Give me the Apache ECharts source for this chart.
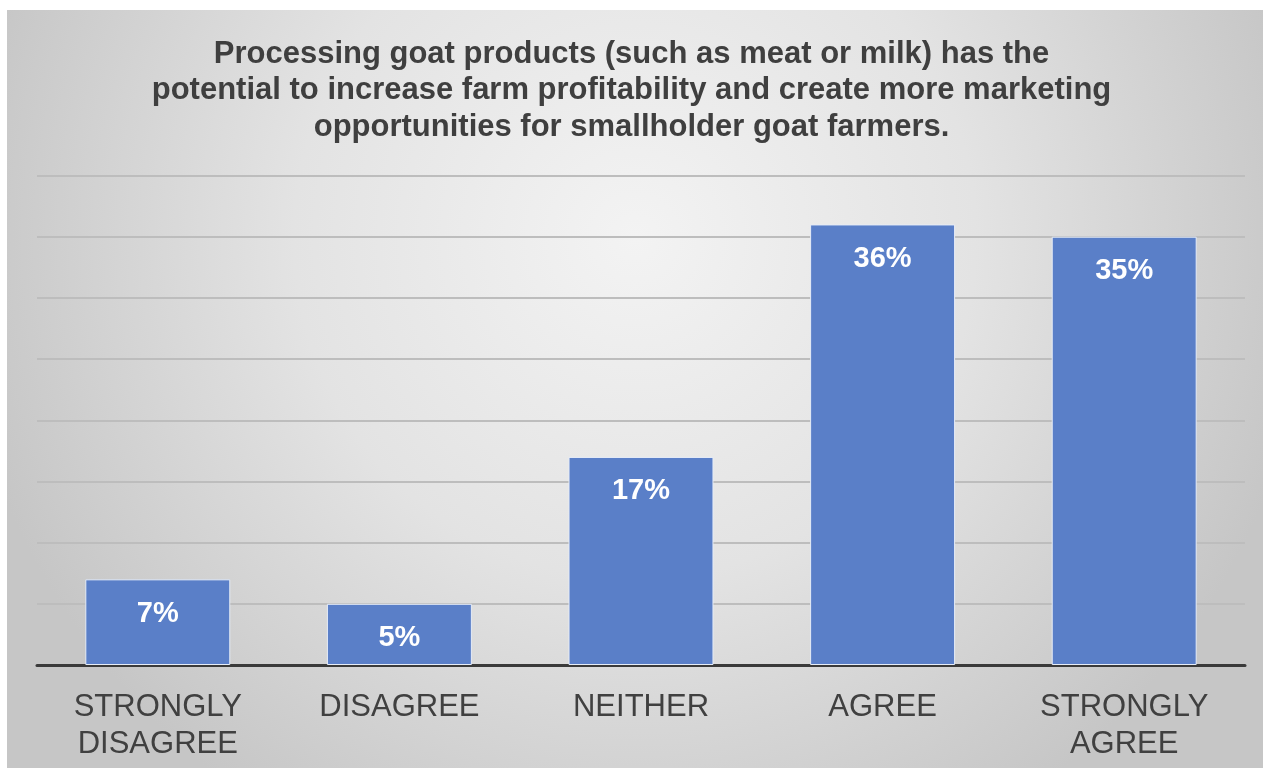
<!DOCTYPE html>
<html>
<head>
<meta charset="utf-8">
<script src="https://cdn.jsdelivr.net/npm/echarts@6/dist/echarts.min.js"></script>
<style>
  html, body { margin: 0; padding: 0; background: #ffffff; }
  #chart { width: 1263px; height: 769px; }
</style>
</head>
<body>
<div id="chart"></div>
<script>
// Survey responses
const categories = ['STRONGLY\nDISAGREE', 'DISAGREE', 'NEITHER', 'AGREE', 'STRONGLY\nAGREE'];
const shares = [7, 5, 17, 36, 35];

const titleText = 'Processing goat products (such as meat or milk) has the\n' +
  'potential to increase farm profitability and create more marketing\n' +
  'opportunities for smallholder goat farmers.';

const chart = echarts.init(document.getElementById('chart'), null, { renderer: 'canvas' });

chart.setOption({
  animation: false,
  textStyle: { fontFamily: 'Liberation Sans, Arial, sans-serif' },
  graphic: [{
    type: 'rect',
    z: -10,
    silent: true,
    shape: { x: 7, y: 10, width: 1256, height: 758 },
    style: {
      fill: new echarts.graphic.RadialGradient(0.5, 0.3, 0.9, [
        { offset: 0, color: '#f3f3f3' },
        { offset: 0.5, color: '#e3e3e3' },
        { offset: 1, color: '#c6c6c6' }
      ])
    }
  }],
  title: {
    text: titleText,
    left: 'center',
    top: 36,
    padding: 0,
    textStyle: {
      fontFamily: 'Liberation Sans, Arial, sans-serif',
      fontSize: 31,
      fontWeight: 'bold',
      color: '#3f3f3f',
      lineHeight: 36.5,
      align: 'center'
    }
  },
  grid: { left: 37, right: 18, top: 175.5, bottom: 104, containLabel: false },
  xAxis: {
    type: 'category',
    data: categories,
    axisLine: { lineStyle: { color: '#3a3a3a', width: 3 } },
    axisTick: { show: false },
    axisLabel: {
      color: '#404040',
      fontSize: 31,
      lineHeight: 37,
      margin: 24,
      interval: 0
    }
  },
  yAxis: {
    type: 'value',
    min: 0,
    max: 40,
    interval: 5,
    axisLabel: { show: false },
    axisLine: { show: false },
    axisTick: { show: false },
    splitLine: { lineStyle: { color: '#bdbdbd', width: 2 } }
  },
  series: [{
    type: 'bar',
    data: shares,
    barWidth: '60%',
    itemStyle: {
      color: '#5a7fc8',
      borderColor: '#e6ecf7',
      borderWidth: 1
    },
    label: {
      show: true,
      position: 'insideTop',
      distance: 20,
      formatter: '{c}%',
      color: '#ffffff',
      fontSize: 29,
      fontWeight: 'bold'
    }
  }]
});
</script>
</body>
</html>
